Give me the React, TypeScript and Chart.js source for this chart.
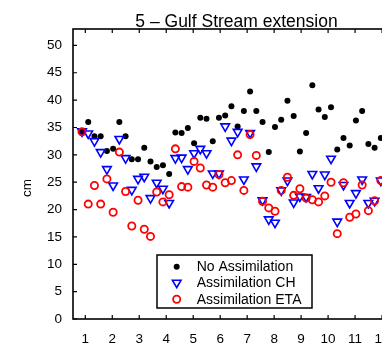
import React, { useEffect, useRef } from "react";
import { Chart, registerables } from "chart.js";

Chart.register(...registerables);

const TITLE = "5 – Gulf Stream extension";
const Y_LABEL = "cm";
const SERIES_NAMES = ["No Assimilation", "Assimilation CH", "Assimilation ETA"];
const MONTH_TICKS = [1, 2, 3, 4, 5, 6, 7, 8, 9, 10, 11, 12];
const Y_TICKS = [0, 5, 10, 15, 20, 25, 30, 35, 40, 45, 50];

// weekly samples (week number within the year)
const WEEKS = [
  1, 2, 3, 4, 5, 6, 7, 8, 9, 10, 11, 12, 13, 14, 15, 16, 17, 18, 19, 20, 21, 22, 23, 24, 25,
  26, 27, 28, 29, 30, 31, 32, 33, 34, 35, 36, 37, 38, 39, 40, 41, 42, 43, 44, 45, 46, 47, 48, 49,
];

const NO_ASSIM = [
  34.2, 36.0, 33.4, 33.4, 30.7, 31.1, 36.0, 33.4, 29.2, 29.2,
  31.3, 28.8, 27.8, 28.1, 26.5, 34.1, 34.0, 34.9, 32.1, 36.8,
  36.6, 32.5, 36.8, 37.2, 38.9, 35.2, 38.0, 41.6, 38.0, 36.0,
  30.5, 35.1, 36.4, 39.9, 37.1, 30.6, 34.0, 42.7, 38.3, 36.9,
  38.7, 31.0, 33.1, 31.7, 36.3, 38.0, 32.0, 31.3, 33.1,
];

const ASSIM_CH = [
  34.3, 33.9, 32.5, 30.5, 27.4, 24.4, 32.9, 29.4, 23.6, 25.6,
  26.0, 22.1, 24.9, 23.8, 21.2, 29.4, 29.5, 27.4, 30.3, 31.1,
  30.3, 26.6, 26.6, 35.2, 32.6, 34.2, 25.5, 34.0, 27.9, 21.7,
  18.2, 17.6, 23.5, 25.3, 21.3, 22.4, 22.3, 26.5, 23.9, 26.4,
  29.3, 17.8, 24.5, 21.2, 23.0, 25.5, 21.2, 21.6, 25.3,
];

const ASSIM_ETA = [
  34.2, 21.0, 24.4, 21.0, 25.6, 19.5, 30.5, 23.3, 17.0, 21.7,
  16.4, 15.1, 23.2, 21.4, 22.7, 31.1, 24.2, 24.1, 28.8, 27.6,
  24.5, 24.1, 26.4, 24.9, 25.3, 30.0, 23.5, 33.7, 29.9, 21.5,
  20.3, 19.7, 23.5, 25.9, 22.6, 23.8, 22.1, 21.8, 21.4, 22.5,
  25.0, 15.6, 24.9, 18.6, 19.2, 24.5, 19.8, 21.6, 25.3,
];

const FIRST_WEEK_POS = 0.878;
const weekToMonth = (w: number) => FIRST_WEEK_POS + ((w - 1) * 12) / 52;

const FONT = '"Liberation Sans", Arial, Helvetica, sans-serif';

const toPoints = (vals: number[]) => vals.map((v, i) => ({ x: weekToMonth(WEEKS[i]), y: v }));

function drawMarker(ctx: CanvasRenderingContext2D, kind: number, x: number, y: number) {
  ctx.save();
  if (kind === 0) {
    ctx.fillStyle = "#000";
    ctx.beginPath();
    ctx.arc(x, y, 3, 0, Math.PI * 2);
    ctx.fill();
  } else if (kind === 1) {
    const r = 5;
    ctx.strokeStyle = "#0000ff";
    ctx.lineWidth = 1.6;
    ctx.beginPath();
    ctx.moveTo(x, y + r);
    ctx.lineTo(x - r * Math.sin(Math.PI / 3), y - r / 2);
    ctx.lineTo(x + r * Math.sin(Math.PI / 3), y - r / 2);
    ctx.closePath();
    ctx.stroke();
  } else {
    ctx.strokeStyle = "#ff0000";
    ctx.lineWidth = 1.8;
    ctx.beginPath();
    ctx.arc(x, y, 3.6, 0, Math.PI * 2);
    ctx.stroke();
  }
  ctx.restore();
}

const framePlugin = {
  id: "frame",
  beforeDatasetsDraw(chart: any) {
    const { ctx, chartArea, scales } = chart;
    const { left, right, top, bottom } = chartArea;
    ctx.save();
    ctx.strokeStyle = "#000";
    ctx.lineWidth = 1.6;
    ctx.strokeRect(left, top, right - left, bottom - top);
    ctx.beginPath();
    ctx.lineWidth = 1.2;
    scales.x.ticks.forEach((t: any) => {
      const px = scales.x.getPixelForValue(t.value);
      ctx.moveTo(px, bottom);
      ctx.lineTo(px, bottom - 4);
      ctx.moveTo(px, top);
      ctx.lineTo(px, top + 4);
    });
    scales.y.ticks.forEach((t: any) => {
      const py = scales.y.getPixelForValue(t.value);
      ctx.moveTo(left, py);
      ctx.lineTo(left + 4, py);
      ctx.moveTo(right, py);
      ctx.lineTo(right - 4, py);
    });
    ctx.stroke();
    ctx.restore();
  },
  afterDraw(chart: any) {
    const { ctx, chartArea } = chart;
    const { left, right, top, bottom } = chartArea;
    ctx.save();
    // title
    ctx.fillStyle = "#000";
    ctx.font = `17.5px ${FONT}`;
    ctx.textAlign = "center";
    ctx.textBaseline = "alphabetic";
    ctx.fillText(TITLE, (left + right) / 2 - 1, top - 2);
    // y label
    ctx.save();
    ctx.translate(27, 188);
    ctx.rotate(-Math.PI / 2);
    ctx.font = `13.5px ${FONT}`;
    ctx.textAlign = "center";
    ctx.textBaseline = "middle";
    ctx.fillText(Y_LABEL, 0, 0);
    ctx.restore();
    // legend
    const bx = left + 84;
    const bw = 155;
    const bh = 53;
    const by = bottom - 11 - bh;
    ctx.fillStyle = "#fff";
    ctx.fillRect(bx, by, bw, bh);
    ctx.strokeStyle = "#000";
    ctx.lineWidth = 1.5;
    ctx.strokeRect(bx, by, bw, bh);
    ctx.font = `14px ${FONT}`;
    ctx.textAlign = "left";
    ctx.textBaseline = "middle";
    ctx.fillStyle = "#000";
    const rows = [11.7, 27.7, 44.3];
    SERIES_NAMES.forEach((name, i) => {
      drawMarker(ctx, i, bx + 19.7, by + rows[i]);
      ctx.fillStyle = "#000";
      ctx.fillText(name, bx + 39.7, by + rows[i] + 0.5);
    });
    ctx.restore();
  },
};

export default function App() {
  const canvasRef = useRef<HTMLCanvasElement | null>(null);

  useEffect(() => {
    const canvas = canvasRef.current;
    if (!canvas) return;
    const tickFont = { family: FONT, size: 13.5 };
    const chart = new Chart(canvas, {
      type: "scatter",
      data: {
        datasets: [
          {
            label: SERIES_NAMES[0],
            data: toPoints(NO_ASSIM),
            pointStyle: "circle",
            pointRadius: 3,
            pointBackgroundColor: "#000",
            pointBorderColor: "#000",
            pointBorderWidth: 0,
            showLine: false,
            order: 3,
          },
          {
            label: SERIES_NAMES[1],
            data: toPoints(ASSIM_CH),
            pointStyle: "triangle",
            pointRotation: 180,
            pointRadius: 5,
            pointBackgroundColor: "rgba(0,0,0,0)",
            pointBorderColor: "#0000ff",
            pointBorderWidth: 1.6,
            showLine: false,
            order: 2,
          },
          {
            label: SERIES_NAMES[2],
            data: toPoints(ASSIM_ETA),
            pointStyle: "circle",
            pointRadius: 3.6,
            pointBackgroundColor: "rgba(0,0,0,0)",
            pointBorderColor: "#ff0000",
            pointBorderWidth: 1.8,
            showLine: false,
            order: 1,
          },
        ] as any,
      },
      options: {
        responsive: false,
        animation: false,
        devicePixelRatio: 1,
        layout: { padding: { left: 0, top: 29, right: 18, bottom: 0 } },
        plugins: {
          legend: { display: false },
          title: { display: false },
          tooltip: { enabled: false },
        },
        scales: {
          x: {
            type: "linear",
            min: 0.544,
            max: 12.74,
            grid: { display: false, drawTicks: false },
            border: { display: false },
            afterBuildTicks: (s: any) => {
              s.ticks = MONTH_TICKS.map((v) => ({ value: v }));
            },
            afterFit: (s: any) => {
              s.height = 25;
            },
            ticks: {
              padding: 12,
              font: tickFont,
              color: "#000",
              maxRotation: 0,
              autoSkip: false,
              callback: (v: any) => String(v),
            },
          },
          y: {
            type: "linear",
            min: 0,
            max: 53,
            grid: { display: false, drawTicks: false },
            border: { display: false },
            afterBuildTicks: (s: any) => {
              s.ticks = Y_TICKS.map((v) => ({ value: v }));
            },
            afterFit: (s: any) => {
              s.width = 73;
            },
            ticks: {
              padding: 11,
              font: tickFont,
              color: "#000",
              callback: (v: any) => String(v),
            },
          },
        },
      } as any,
      plugins: [framePlugin],
    });
    return () => chart.destroy();
  }, []);

  return (
    <div
      style={{
        position: "fixed",
        left: 0,
        top: 0,
        width: 382,
        height: 344,
        overflow: "hidden",
        background: "#fff",
      }}
    >
      <canvas ref={canvasRef} width={420} height={344} style={{ display: "block" }} />
    </div>
  );
}
